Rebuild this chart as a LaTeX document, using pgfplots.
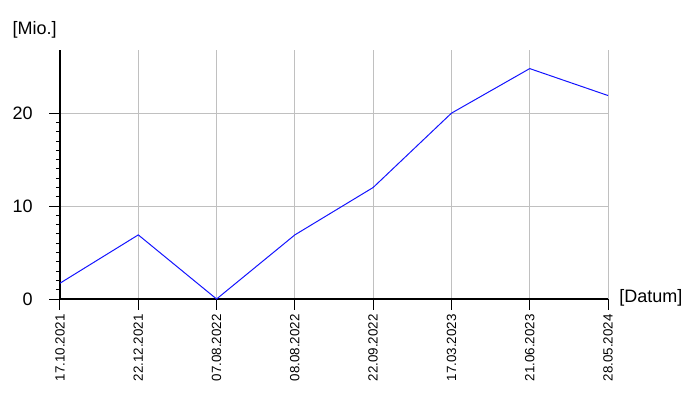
\documentclass[border=0pt]{standalone}
\usepackage{pgfplots}
\pgfplotsset{compat=1.18}
\usepackage{fontspec}
\setmainfont{Liberation Sans}
\definecolor{gridgray}{RGB}{192,192,192}
\definecolor{lineblue}{RGB}{20,20,255}
\begin{document}
\begin{tikzpicture}
% fixed page frame (1px = 0.75pt)
\path (-45pt,-75.75pt) rectangle (480pt,224.25pt);
\begin{axis}[
    at={(0,0)}, anchor=south west,
    scale only axis,
    width=411pt, height=186.75pt,
    xmin=0, xmax=7,
    ymin=0, ymax=26.8,
    axis x line*=bottom,
    axis y line*=left,
    axis line style={black, line width=1.5pt},
    xtick={0,...,7},
    xticklabels={17.10.2021,22.12.2021,07.08.2022,08.08.2022,22.09.2022,17.03.2023,21.06.2023,28.05.2024},
    xticklabel style={rotate=90, anchor=east, font=\fontsize{10}{12}\selectfont},
    ytick={0,10,20},
    minor y tick num=9,
    yticklabel style={font=\fontsize{13.5}{15}\selectfont, xshift=-9pt},
    /pgf/number format/assume math mode=true,
    tick align=outside,
    major tick length=8pt,
    minor tick length=3pt,
    tick style={black, line width=0.75pt},
    grid=major,
    major grid style={gridgray, line width=0.75pt},
    clip=false,
]
\addplot[lineblue, line width=0.75pt, mark=none] coordinates {
    (0,1.7) (1,6.9) (2,0) (3,6.9) (4,12.0) (5,20.0) (6,24.8) (7,21.9)
};
\node[anchor=west, font=\fontsize{13.5}{15}\selectfont] at (axis description cs:-0.095,1.08) {[Mio.]};
\node[anchor=west, font=\fontsize{13.5}{15}\selectfont] at (axis description cs:1.012,0.005) {[Datum]};
\end{axis}
\end{tikzpicture}
\end{document}
